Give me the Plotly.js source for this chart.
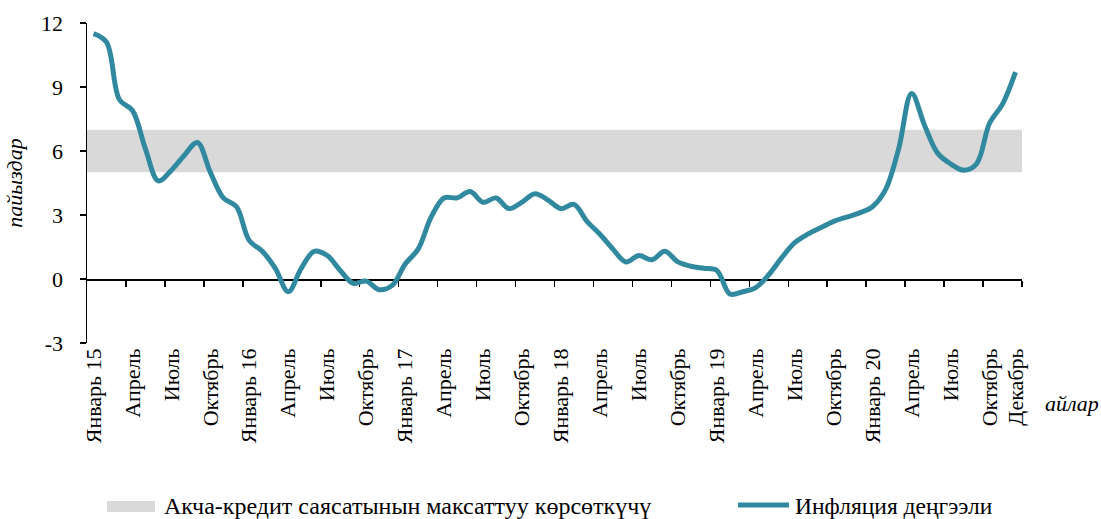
<!DOCTYPE html>
<html>
<head>
<meta charset="utf-8">
<script src="https://cdn.plot.ly/plotly-3.0.1.min.js"></script>
<style>
html,body{margin:0;padding:0;background:#fff;}
#chart{width:1101px;height:519px;}
</style>
</head>
<body>
<div id="chart"></div>
<script>
// Monthly inflation, January 2015 - December 2020 (percent)
const inflation = [
  11.5, 11.1, 8.4, 7.9, 6.1, 4.6, 5.1, 5.8, 6.4, 5.0, 3.8, 3.4,
  1.8, 1.3, 0.5, -0.6, 0.5, 1.3, 1.1, 0.4, -0.2, -0.1, -0.5, -0.3,
  0.7, 1.4, 2.9, 3.8, 3.8, 4.1, 3.6, 3.8, 3.3, 3.6, 4.0, 3.7,
  3.3, 3.5, 2.7, 2.1, 1.4, 0.8, 1.1, 0.9, 1.3, 0.8, 0.6, 0.5,
  0.4, -0.7, -0.6, -0.4, 0.2, 1.0, 1.7, 2.1, 2.4, 2.7, 2.9, 3.1,
  3.4, 4.2, 6.1, 8.7, 7.2, 5.9, 5.4, 5.1, 5.4, 7.3, 8.2, 9.7
];
const monthIndex = inflation.map((v, i) => i);
const tickPositions = [0, 3, 6, 9, 12, 15, 18, 21, 24, 27, 30, 33, 36, 39, 42, 45, 48, 51, 54, 57, 60, 63, 66, 69, 71];
const tickLabels = [
  "Январь 15", "Апрель", "Июль", "Октябрь",
  "Январь 16", "Апрель", "Июль", "Октябрь",
  "Январь 17", "Апрель", "Июль", "Октябрь",
  "Январь 18", "Апрель", "Июль", "Октябрь",
  "Январь 19", "Апрель", "Июль", "Октябрь",
  "Январь 20", "Апрель", "Июль", "Октябрь", "Декабрь"
];
const targetLow = 5;
const targetHigh = 7;
const yTicks = [-3, 0, 3, 6, 9, 12];
const yTickLabels = ["-3", "0", "3", "6", "9", "12"];
const seriesNames = ["Акча-кредит саясатынын максаттуу көрсөткүчү", "Инфляция деңгээли"];

const n = inflation.length;
const xMin = -0.5, xMax = n - 0.5;
const boundaryTicks = [];
for (let b = 2.5; b <= xMax; b += 3) boundaryTicks.push(b);

const FONT = "Liberation Serif, Times New Roman, serif";
const TEAL = "#31899f";
const BAND = "#d9d9d9";

// empty trace keeps the label axis (x) alive; band + line live on x2 so they sit above
const labelTrace = {x: [], y: [], xaxis: "x", yaxis: "y", mode: "lines", showlegend: false, hoverinfo: "skip"};
const bandTrace = {
  x: [xMin, xMax, xMax, xMin, xMin],
  y: [targetLow, targetLow, targetHigh, targetHigh, targetLow],
  xaxis: "x2", yaxis: "y",
  mode: "lines", fill: "toself", fillcolor: BAND,
  line: {width: 0, color: BAND},
  name: seriesNames[0], hoverinfo: "skip", showlegend: false
};
const lineTrace = {
  x: monthIndex, y: inflation,
  xaxis: "x2", yaxis: "y",
  mode: "lines",
  line: {color: TEAL, width: 5, shape: "spline", smoothing: 1},
  name: seriesNames[1], showlegend: false
};

// plot area geometry (pixels) for legend placement in paper coords
const L = 87, R = 79, T = 23, B = 176;
const W = 1101 - L - R, H = 519 - T - B;
const px = x => (x - L) / W;
const py = y => (519 - B - y) / H;

const layout = {
  width: 1101, height: 519,
  margin: {l: L, r: R, t: T, b: B, pad: 0},
  paper_bgcolor: "#fff", plot_bgcolor: "#fff",
  font: {family: FONT, size: 22, color: "#000"},
  showlegend: false,
  xaxis: {
    range: [xMin, xMax], tickmode: "array", tickvals: tickPositions, ticktext: tickLabels,
    tickangle: -90, ticks: "", showline: false, showgrid: false, zeroline: false,
    tickfont: {family: FONT, size: 22, color: "#000"}, fixedrange: true
  },
  xaxis2: {
    overlaying: "x", anchor: "free", position: (0 - (-3)) / (12 - (-3)),
    range: [xMin, xMax], tickmode: "array", tickvals: boundaryTicks,
    ticks: "outside", ticklen: 6, tickwidth: 1.5, tickcolor: "#000",
    showticklabels: false, showline: true, linecolor: "#000", linewidth: 1.5,
    showgrid: false, zeroline: false, layer: "below traces", fixedrange: true
  },
  yaxis: {
    range: [-3, 12], tickmode: "array", tickvals: yTicks, ticktext: yTickLabels,
    ticks: "outside", ticklen: 6, tickwidth: 1.5, tickcolor: "#000",
    showline: true, linecolor: "#000", linewidth: 1.5, showgrid: false, zeroline: false,
    ticklabelstandoff: 12,
    tickfont: {family: FONT, size: 22, color: "#000"},
    title: {text: "<i>пайыздар</i>", standoff: 12, font: {family: FONT, size: 22, color: "#000"}},
    automargin: false, fixedrange: true
  },
  shapes: [
    {type: "rect", xref: "paper", yref: "paper", x0: px(107), x1: px(155), y0: py(512), y1: py(501),
     fillcolor: BAND, line: {width: 0}},
    {type: "line", xref: "paper", yref: "paper", x0: px(738), x1: px(789), y0: py(505), y1: py(505),
     line: {color: TEAL, width: 5}}
  ],
  annotations: [
    {text: "<i>айлар</i>", xref: "paper", yref: "paper", x: px(1072), y: py(403),
     xanchor: "center", yanchor: "middle", showarrow: false, font: {family: FONT, size: 22, color: "#000"}},
    {text: seriesNames[0], xref: "paper", yref: "paper", x: px(162), y: py(506),
     xanchor: "left", yanchor: "middle", showarrow: false, font: {family: FONT, size: 24, color: "#000"}},
    {text: seriesNames[1], xref: "paper", yref: "paper", x: px(793), y: py(506),
     xanchor: "left", yanchor: "middle", showarrow: false, font: {family: FONT, size: 23.5, color: "#000"}}
  ]
};

Plotly.newPlot("chart", [labelTrace, bandTrace, lineTrace], layout, {displayModeBar: false, staticPlot: true});
</script>
</body>
</html>
